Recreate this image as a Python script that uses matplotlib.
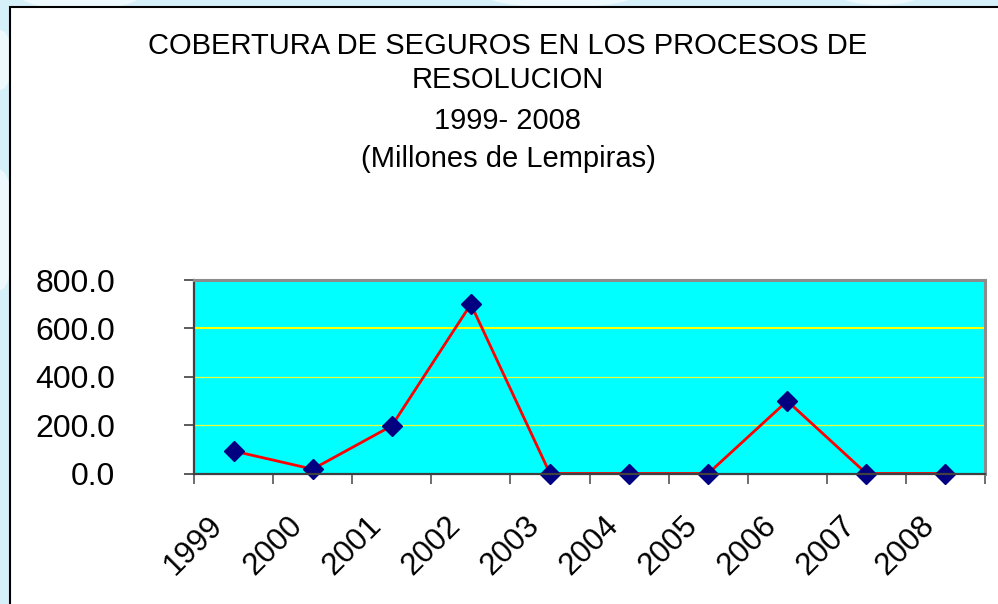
import matplotlib
matplotlib.use("Agg")
import matplotlib.pyplot as plt
from matplotlib.patches import Rectangle, Ellipse
from matplotlib.transforms import ScaledTranslation

years = ["1999", "2000", "2001", "2002", "2003", "2004", "2005", "2006", "2007", "2008"]
values = [93, 18, 197, 700, 0, 0, 0, 300, 0, 0]
yticks = [0, 200, 400, 600, 800]
ytick_labels = ["0.0", "200.0", "400.0", "600.0", "800.0"]
title_lines = ["COBERTURA DE SEGUROS EN LOS PROCESOS DE", "RESOLUCION", "1999- 2008", "(Millones de Lempiras)"]

W, H = 998, 604
plt.rcParams['font.family'] = ['Liberation Sans', 'DejaVu Sans']
fig = plt.figure(figsize=(W / 100, H / 100), dpi=100)
fig.patch.set_facecolor('#d6f0fa')

# soft white blobs in the light-blue margin
for (cx, cy, w, h) in [(80, -5, 120, 30), (560, -5, 150, 25), (880, -5, 80, 20), (0, 230, 30, 120), (0, 60, 25, 60)]:
    fig.patches.append(Ellipse((cx / W, 1 - cy / H), w / W, h / H, transform=fig.transFigure,
                               facecolor='#eef9fd', edgecolor='none', zorder=-3))

# white chart area with black border
fig.patches.append(Rectangle((10 / W, -0.05), 1.2, 1 - 7 / H + 0.05, transform=fig.transFigure,
                             facecolor='white', edgecolor='black', linewidth=1.5, zorder=-2))

ax = fig.add_axes([194 / W, 1 - 473.5 / H, (985 - 194) / W, (473.5 - 280) / H])
ax.set_zorder(2)
ax.set_facecolor('#00ffff')
x = list(range(len(years)))
ax.set_xlim(-0.5, len(years) - 0.5)
ax.set_ylim(0, 800)

# gridlines
for yv in yticks[1:-1]:
    if yv == 600:
        ax.axhline(yv, color='#ffff00', lw=1.5, zorder=1)
    else:
        ax.axhline(yv, color='#e8ff40', lw=0.9, zorder=1)

ax.plot(x, values, color='#ff0000', lw=2.0, zorder=3, clip_on=False)
ax.plot(x, values, linestyle='none', marker='D', markersize=10.5, color='#000080',
        markeredgecolor='#000080', zorder=4, clip_on=False)

for side, col, lw in [('top', '#8c8c8c', 2.2), ('right', '#8c8c8c', 2.2),
                      ('left', '#404040', 1.6), ('bottom', '#404040', 1.6)]:
    ax.spines[side].set_color(col)
    ax.spines[side].set_linewidth(lw)
    ax.spines[side].set_zorder(5)

ax.set_yticks(yticks)
ax.set_yticklabels(ytick_labels, fontsize=23)
ax.tick_params(axis='y', direction='out', length=7.2, width=1.2, color='#404040', pad=49.7)

# category boundary ticks
ax.set_xticks([i - 0.5 for i in range(len(years) + 1)])
ax.set_xticklabels([])
ax.tick_params(axis='x', direction='out', length=7.2, width=1.2, color='#555555')

off = ScaledTranslation(-15 / 100, -48 / 100, fig.dpi_scale_trans)
for i, yr in enumerate(years):
    ax.text(i, 0, yr, transform=ax.get_xaxis_transform() + off, rotation=45,
            rotation_mode='anchor', ha='right', va='center', fontsize=22.5)

for line, yb in zip(title_lines, [54, 88, 129, 167]):
    fig.text(508 / W, 1 - yb / H, line, ha='center', va='baseline', fontsize=21)

fig.savefig('out.png', dpi=100, facecolor=fig.get_facecolor())
